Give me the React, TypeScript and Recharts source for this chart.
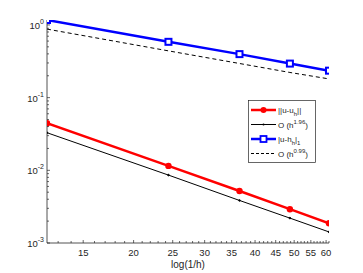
import React from "react";
import { Line, LineChart, XAxis, YAxis } from "recharts";

// mesh sizes 1/h (log axis) and the error norms
const invH = [12.2, 24.4, 36.6, 48.8, 61.0];
const errL2 = [0.0444, 0.0115, 0.0052, 0.00292, 0.00187];
const rateL2 = [0.0329, 0.0086, 0.00385, 0.0022, 0.00142];
const errH1 = [1.17, 0.586, 0.397, 0.294, 0.235];
const rateH1 = [0.877, 0.44, 0.295, 0.222, 0.181];

const xMajor = [15, 20, 25, 30, 35, 40, 45, 50, 55, 60];
const xTicks = Array.from({ length: 49 }, (_, i) => 13 + i);
const yMajor = [0.001, 0.01, 0.1, 1];
const yTicks = [-3, -2, -1, 0].flatMap((e) =>
  [1, 2, 3, 4, 5, 6, 7, 8, 9].map((m) => m * Math.pow(10, e))
).filter((v) => v <= 1.17);

const data = invH.map((x, i) => ({
  x,
  l2: errL2[i],
  r2: rateL2[i],
  h1: errH1[i],
  r1: rateH1[i],
}));

const AX = "#262626";
const FONT = "'Liberation Sans', Arial, sans-serif";

const isMajorX = (v: number) => xMajor.includes(v);
const isMajorY = (v: number) => yMajor.some((m) => Math.abs(m - v) < 1e-9);

function BottomTick({ x, y, payload }: any) {
  const major = isMajorX(payload.value);
  return (
    <g>
      <line x1={x} x2={x} y1={y} y2={y - (major ? 3 : 2)} stroke={AX} strokeWidth={0.7} />
      {major && (
        <text x={x} y={y + 12.5} textAnchor="middle" fontSize={9.5} fill={AX} fontFamily={FONT}>
          {payload.value}
        </text>
      )}
    </g>
  );
}

function TopTick({ x, y, payload }: any) {
  const major = isMajorX(payload.value);
  return <line x1={x} x2={x} y1={y} y2={y + (major ? 3 : 2)} stroke={AX} strokeWidth={0.7} />;
}

function LeftTick({ x, y, payload }: any) {
  const major = isMajorY(payload.value);
  const exp = Math.round(Math.log10(payload.value));
  return (
    <g>
      <line x1={x} x2={x + (major ? 3 : 2)} y1={y} y2={y} stroke={AX} strokeWidth={0.7} />
      {major && (
        <text x={x - 3} y={y + 4} textAnchor="end" fontSize={9.5} fill={AX} fontFamily={FONT}>
          <tspan>10</tspan>
          <tspan dy={-5} fontSize={7}>{exp}</tspan>
        </text>
      )}
    </g>
  );
}

function RightTick({ x, y, payload }: any) {
  const major = isMajorY(payload.value);
  return <line x1={x} x2={x - (major ? 3 : 2)} y1={y} y2={y} stroke={AX} strokeWidth={0.7} />;
}

function SquareDot({ cx, cy }: any) {
  return <rect x={cx - 3} y={cy - 3} width={6} height={6} fill="#fff" stroke="#0000ff" strokeWidth={2} />;
}

function LegendBox() {
  const rows = [
    { color: "#ff0000", w: 2.5, dash: undefined, mark: "circle" },
    { color: "#000", w: 1, dash: undefined, mark: "dot" },
    { color: "#0000ff", w: 2.5, dash: undefined, mark: "square" },
    { color: "#000", w: 1, dash: "3 2", mark: "none" },
  ];
  const labels = [
    <>
      <tspan>||u-u</tspan>
      <tspan dy={3} fontSize={6}>h</tspan>
      <tspan dy={-3}>||</tspan>
    </>,
    <>
      <tspan>O (h</tspan>
      <tspan dy={-4} fontSize={6}>1.96</tspan>
      <tspan dy={4}>)</tspan>
    </>,
    <>
      <tspan>|u-h</tspan>
      <tspan dy={3} fontSize={6}>h</tspan>
      <tspan dy={-3}>|</tspan>
      <tspan dy={3} fontSize={6}>1</tspan>
    </>,
    <>
      <tspan>O (h</tspan>
      <tspan dy={-4} fontSize={6}>0.99</tspan>
      <tspan dy={4}>)</tspan>
    </>,
  ];
  return (
    <svg width={68} height={63} style={{ display: "block" }}>
      <rect x={0.5} y={0.5} width={67} height={62} fill="#fff" stroke={AX} strokeWidth={0.7} />
      {rows.map((r, i) => {
        const cy = 10 + i * 14.5;
        return (
          <g key={i}>
            <line x1={3} x2={28} y1={cy} y2={cy} stroke={r.color} strokeWidth={r.w} strokeDasharray={r.dash} />
            {r.mark === "circle" && <circle cx={15.5} cy={cy} r={3} fill="#ff0000" />}
            {r.mark === "dot" && <circle cx={15.5} cy={cy} r={1} fill="#000" />}
            {r.mark === "square" && (
              <rect x={12.5} y={cy - 3} width={6} height={6} fill="#fff" stroke="#0000ff" strokeWidth={1.8} />
            )}
            <text x={30} y={cy + 3} fontSize={8} fill={AX} fontFamily={FONT}>
              {labels[i]}
            </text>
          </g>
        );
      })}
    </svg>
  );
}

export default function App() {
  return (
    <div style={{ position: "absolute", left: 0, top: 0, width: 363, height: 273, background: "#fff" }}>
      <LineChart width={363} height={273} data={data} margin={{ top: 20, right: 34, left: 0, bottom: 0 }}>
        <XAxis
          xAxisId="b"
          dataKey="x"
          type="number"
          scale="log"
          domain={[12.2, 61]}
          allowDataOverflow
          ticks={xTicks}
          interval={0}
          tick={<BottomTick />}
          tickLine={false}
          tickSize={0}
          tickMargin={0}
          height={30}
          axisLine={{ stroke: AX, strokeWidth: 0.8 }}
          label={{ value: "log(1/h)", position: "insideBottom", offset: 5, fontSize: 10, fill: AX, fontFamily: FONT }}
        />
        <XAxis
          xAxisId="t"
          orientation="top"
          type="number"
          scale="log"
          domain={[12.2, 61]}
          allowDataOverflow
          ticks={xTicks}
          interval={0}
          tick={<TopTick />}
          tickLine={false}
          tickSize={0}
          tickMargin={0}
          height={0}
          axisLine={{ stroke: AX, strokeWidth: 0.8 }}
        />
        <YAxis
          yAxisId="l"
          type="number"
          scale="log"
          domain={[0.001, 1.17]}
          allowDataOverflow
          ticks={yTicks}
          interval={0}
          tick={<LeftTick />}
          tickLine={false}
          tickSize={0}
          tickMargin={0}
          width={47}
          axisLine={{ stroke: AX, strokeWidth: 0.8 }}
        />
        <YAxis
          yAxisId="r"
          orientation="right"
          type="number"
          scale="log"
          domain={[0.001, 1.17]}
          allowDataOverflow
          ticks={yTicks}
          interval={0}
          tick={<RightTick />}
          tickLine={false}
          tickSize={0}
          tickMargin={0}
          width={0}
          axisLine={{ stroke: AX, strokeWidth: 0.8 }}
        />
        <Line xAxisId="b" yAxisId="l" dataKey="r1" stroke="#000" strokeWidth={1} strokeDasharray="4 3" dot={false} isAnimationActive={false} />
        <Line xAxisId="b" yAxisId="l" dataKey="h1" stroke="#0000ff" strokeWidth={2.5} dot={<SquareDot />} isAnimationActive={false} />
        <Line xAxisId="b" yAxisId="l" dataKey="r2" stroke="#000" strokeWidth={1} dot={{ r: 0.8, fill: "#000", stroke: "#000" }} isAnimationActive={false} />
        <Line xAxisId="b" yAxisId="l" dataKey="l2" stroke="#ff0000" strokeWidth={2.5} dot={{ r: 3.2, fill: "#ff0000", stroke: "#ff0000", strokeWidth: 0 }} isAnimationActive={false} />
      </LineChart>
      <div style={{ position: "absolute", left: 248, top: 100 }}>
        <LegendBox />
      </div>
    </div>
  );
}
